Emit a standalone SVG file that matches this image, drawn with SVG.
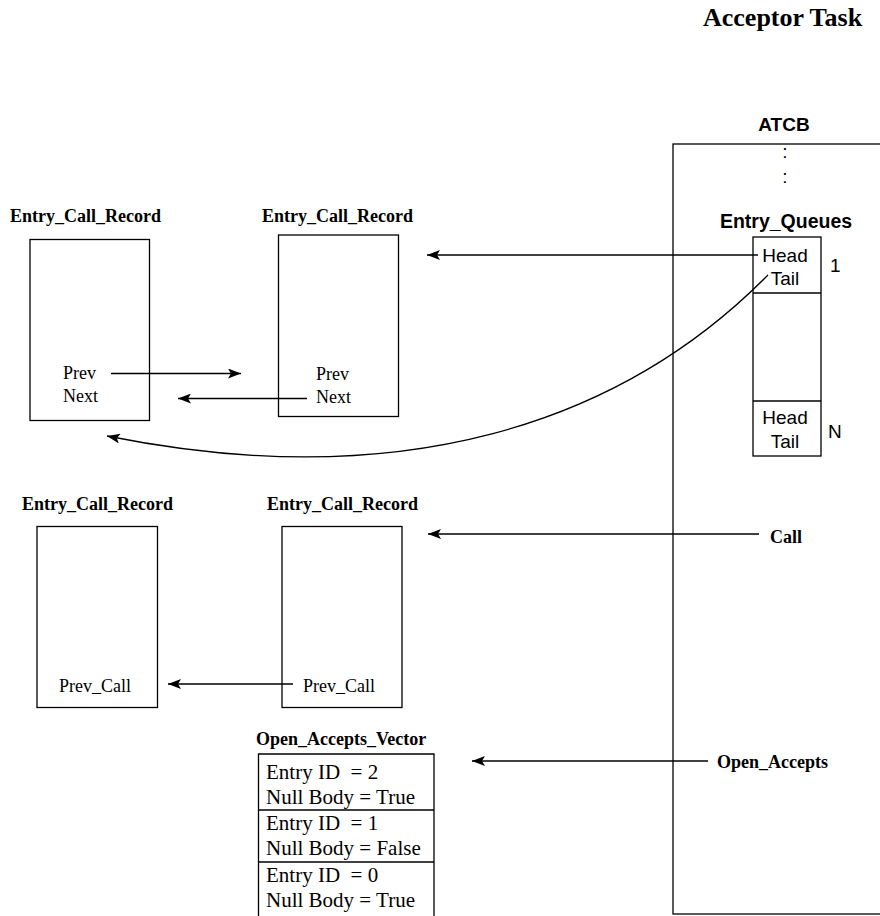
<svg xmlns="http://www.w3.org/2000/svg" width="880" height="916" viewBox="0 0 880 916">
<style>
.box{fill:none;stroke:#000;stroke-width:1.3}
.ln{fill:none;stroke:#000;stroke-width:1.3}
.sb{font-family:"Liberation Serif",serif;font-weight:bold;font-size:18px;fill:#000}
.sr{font-family:"Liberation Serif",serif;font-size:18px;fill:#000}
.vr{font-family:"Liberation Serif",serif;font-size:21px;fill:#000}
.hv{font-family:"Liberation Sans",sans-serif;font-size:19px;fill:#000}
.hb{font-family:"Liberation Sans",sans-serif;font-weight:bold;font-size:19px;fill:#000}
</style>
<defs>
<marker id="ah" markerWidth="14" markerHeight="10" refX="13" refY="5" orient="auto" markerUnits="userSpaceOnUse">
<path d="M0,0 L13,5 L0,10 L3,5 Z" fill="#000"/>
</marker>
</defs>
<rect width="880" height="916" fill="#fff"/>
<text x="703" y="26" class="sb" style="font-size:26px">Acceptor Task</text>

<g id="atcb">
<text x="784" y="131" class="hb" text-anchor="middle">ATCB</text>
<rect x="673" y="144" width="220" height="770" class="box"/>
<text x="785" y="157.5" class="hv" text-anchor="middle">:</text>
<text x="785" y="183" class="hv" text-anchor="middle">:</text>
<text x="786" y="228" class="hb" text-anchor="middle" style="font-size:19.5px">Entry_Queues</text>
<text x="770" y="543" class="sb">Call</text>
<text x="717" y="768" class="sb">Open_Accepts</text>
</g>

<g id="entry_queues">
<rect x="753" y="237" width="68" height="219" class="box"/>
<line x1="753" y1="293" x2="821" y2="293" class="ln"/>
<line x1="753" y1="401" x2="821" y2="401" class="ln"/>
<text x="785" y="262" class="hv" text-anchor="middle">Head</text>
<text x="785" y="285" class="hv" text-anchor="middle">Tail</text>
<text x="785" y="424" class="hv" text-anchor="middle">Head</text>
<text x="785" y="448" class="hv" text-anchor="middle">Tail</text>
<text x="830" y="272" class="hv">1</text>
<text x="828" y="438" class="hv">N</text>
</g>

<g id="ecr1">
<text x="10" y="222" class="sb">Entry_Call_Record</text>
<rect x="30" y="239.5" width="119.5" height="181" class="box"/>
<text x="63" y="378.5" class="sr">Prev</text>
<text x="63" y="401.5" class="sr">Next</text>
</g>

<g id="ecr2">
<text x="262" y="222" class="sb">Entry_Call_Record</text>
<rect x="278.5" y="235" width="120" height="181.5" class="box"/>
<text x="316" y="380" class="sr">Prev</text>
<text x="316" y="403" class="sr">Next</text>
</g>

<g id="ecr3">
<text x="22" y="510" class="sb">Entry_Call_Record</text>
<rect x="37" y="526.5" width="120.5" height="181" class="box"/>
<text x="59" y="692" class="sr">Prev_Call</text>
</g>

<g id="ecr4">
<text x="267" y="510" class="sb">Entry_Call_Record</text>
<rect x="282" y="526.5" width="120" height="181" class="box"/>
<text x="303" y="692" class="sr">Prev_Call</text>
</g>

<g id="open_accepts_vector">
<text x="256" y="745" class="sb">Open_Accepts_Vector</text>
<path d="M258.5,920 V754 H434 V920" class="ln"/>
<line x1="258.5" y1="810" x2="434" y2="810" class="ln"/>
<line x1="258.5" y1="862" x2="434" y2="862" class="ln"/>
<text x="266" y="779" class="vr" xml:space="preserve">Entry ID  = 2</text>
<text x="266" y="804" class="vr">Null Body = True</text>
<text x="266" y="830" class="vr" xml:space="preserve">Entry ID  = 1</text>
<text x="266" y="855" class="vr">Null Body = False</text>
<text x="266" y="882" class="vr" xml:space="preserve">Entry ID  = 0</text>
<text x="266" y="907" class="vr">Null Body = True</text>
</g>

<g id="connectors">
<line x1="758" y1="255" x2="427" y2="255" class="ln" marker-end="url(#ah)"/>
<path d="M768,275 C620,425 400,495 107,436" class="ln" marker-end="url(#ah)"/>
<line x1="111" y1="373.5" x2="241" y2="373.5" class="ln" marker-end="url(#ah)"/>
<line x1="307" y1="398.5" x2="178" y2="398.5" class="ln" marker-end="url(#ah)"/>
<line x1="759" y1="534" x2="428" y2="534" class="ln" marker-end="url(#ah)"/>
<line x1="293" y1="684" x2="168" y2="684" class="ln" marker-end="url(#ah)"/>
<line x1="708" y1="761" x2="472" y2="761" class="ln" marker-end="url(#ah)"/>
</g>
</svg>
